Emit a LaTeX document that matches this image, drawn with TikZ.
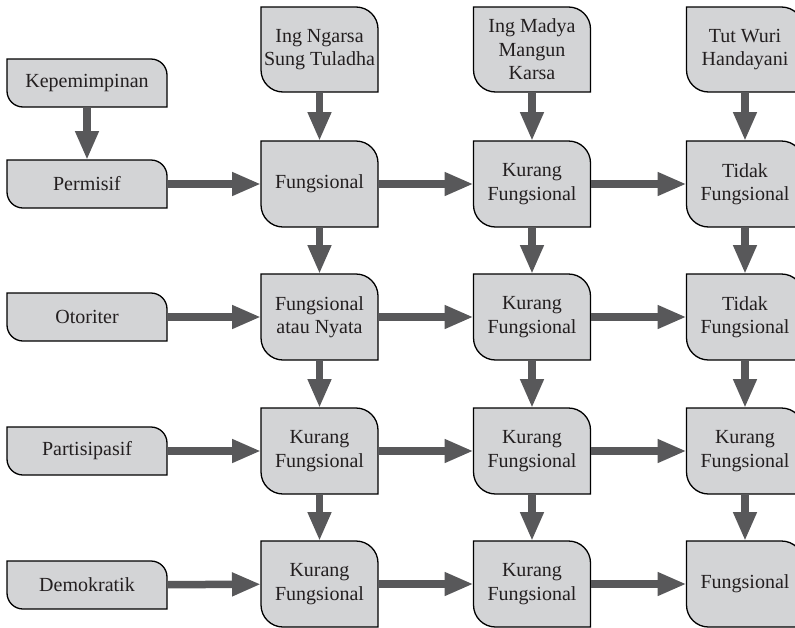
\documentclass[tikz,border=0pt]{standalone}
\usepackage{fontspec}
\setmainfont{Liberation Serif}
\usetikzlibrary{arrows.meta,backgrounds}
\definecolor{boxfill}{HTML}{D3D4D6}
\definecolor{flowgray}{HTML}{58585A}
\definecolor{inkdark}{HTML}{231F20}
\tikzset{
  cell/.style={minimum width=117pt, minimum height=86pt, inner sep=0pt, outer sep=0pt,
    align=center, font=\fontsize{20}{23.5}\selectfont, text=inkdark},
  headcell/.style={cell, minimum height=85pt},
  labelcell/.style={cell, minimum width=160pt, minimum height=48pt},
  flow/.style={draw=flowgray, line width=7.5pt, -{Triangle[length=29pt,width=22pt]}},
  outline/.style={draw=black, line width=1.3pt, fill=boxfill},
}
% leaf-like box: square top-left and bottom-right, rounded top-right and bottom-left
\newcommand{\leafshape}[2]{%
  \path[outline] (#1.north west) -- ([xshift=-#2]#1.north east)
    arc[start angle=90, end angle=0, radius=#2] -- (#1.south east)
    -- ([xshift=#2]#1.south west)
    arc[start angle=270, end angle=180, radius=#2] -- cycle;}
\begin{document}
\begin{tikzpicture}[x=1pt, y=-1pt]
  \useasboundingbox (0,0) rectangle (795,627);

  % left column: leadership types
  \node[labelcell] (lead) at (87,83) {Kepemimpinan};
  \node[labelcell] (p1) at (87,184) {Permisif};
  \node[labelcell] (p2) at (87,317) {Otoriter};
  \node[labelcell] (p3) at (87,451) {Partisipasif};
  \node[labelcell] (p4) at (87,585) {Demokratik};

  % column heads
  \node[headcell] (t1) at (319.5,49.5) {Ing Ngarsa\\Sung Tuladha};
  \node[headcell] (t2) at (532,49.5) {Ing Madya\\Mangun\\Karsa};
  \node[headcell] (t3) at (745,49.5) {Tut Wuri\\Handayani};

  % grid of outcomes
  \node[cell] (m11) at (319.5,184) {Fungsional};
  \node[cell] (m12) at (532,184) {Kurang\\Fungsional};
  \node[cell] (m13) at (745,184) {Tidak\\Fungsional};

  \node[cell] (m21) at (319.5,317) {Fungsional\\atau Nyata};
  \node[cell] (m22) at (532,317) {Kurang\\Fungsional};
  \node[cell] (m23) at (745,317) {Tidak\\Fungsional};

  \node[cell] (m31) at (319.5,451) {Kurang\\Fungsional};
  \node[cell] (m32) at (532,451) {Kurang\\Fungsional};
  \node[cell] (m33) at (745,451) {Kurang\\Fungsional};

  \node[cell] (m41) at (319.5,584) {Kurang\\Fungsional};
  \node[cell] (m42) at (532,584) {Kurang\\Fungsional};
  \node[cell] (m43) at (745,584) {Fungsional};

  % box outlines behind the texts
  \begin{scope}[on background layer]
    \clip (0,0) rectangle (795,627);
    \foreach \n in {lead,p1,p2,p3,p4} {\leafshape{\n}{16pt}}
    \foreach \n in {t1,t2,t3,m11,m12,m13,m21,m22,m23,m31,m32,m33,m41,m42,m43}
      {\leafshape{\n}{22pt}}
  \end{scope}

  % connectors
  \draw[flow] (lead) -- (p1);
  \foreach \c in {1,2,3} {
    \draw[flow] (t\c) -- (m1\c);
    \draw[flow] (m1\c) -- (m2\c);
    \draw[flow] (m2\c) -- (m3\c);
    \draw[flow] (m3\c) -- (m4\c);
  }
  \foreach \r in {1,2,3,4} {
    \draw[flow] (p\r) -- (m\r1);
    \draw[flow] (m\r1) -- (m\r2);
    \draw[flow] (m\r2) -- (m\r3);
  }
\end{tikzpicture}
\end{document}
